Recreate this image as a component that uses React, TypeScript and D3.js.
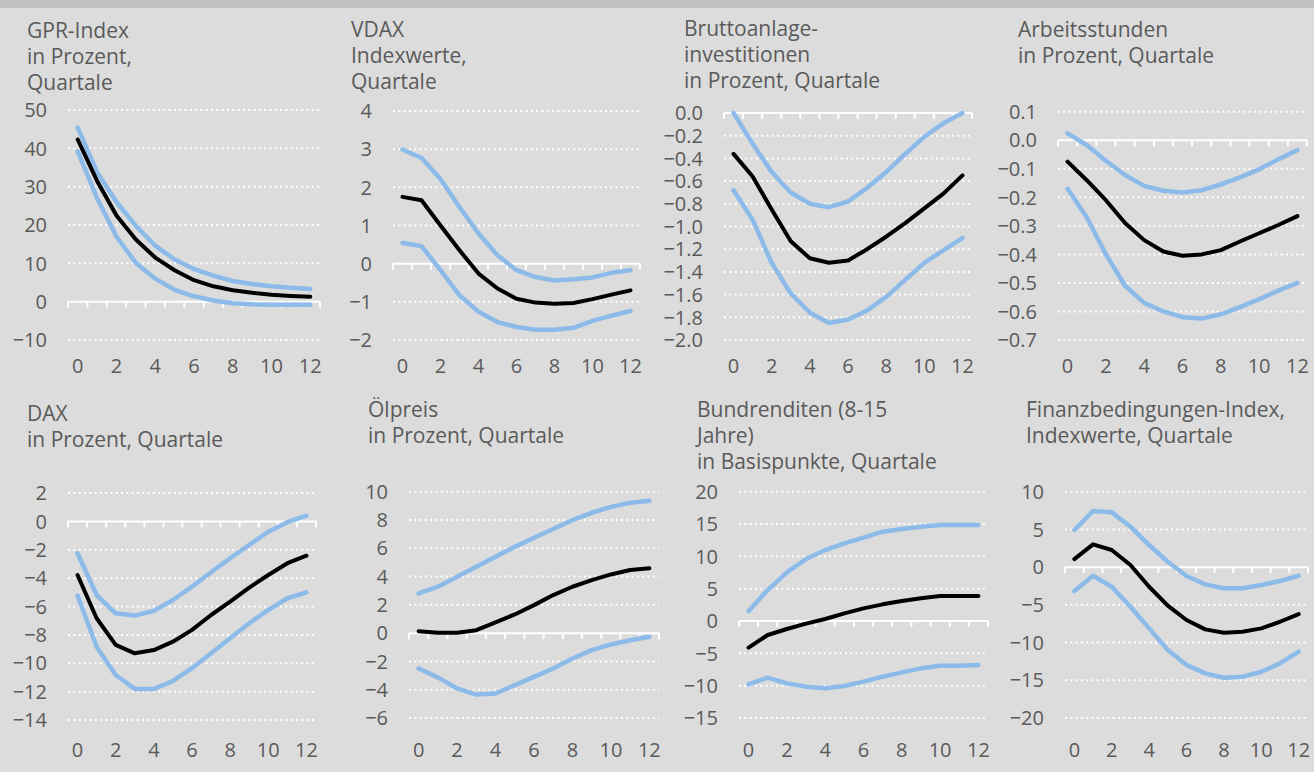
import React from "react";
import * as d3 from "d3";

// quarters after the shock
const QUARTERS = [0, 1, 2, 3, 4, 5, 6, 7, 8, 9, 10, 11, 12];
const X_LABELS = [0, 2, 4, 6, 8, 10, 12];

// GPR-Index
const gprMid = [42.3, 31.5, 22.5, 16.2, 11.5, 8.2, 5.6, 4.0, 3.0, 2.3, 1.8, 1.5, 1.3];
const gprUpper = [45.4, 33.8, 26.0, 19.8, 14.6, 11.0, 8.5, 6.8, 5.4, 4.6, 4.0, 3.6, 3.3];
const gprLower = [39.2, 27.0, 17.0, 10.1, 6.0, 3.1, 1.4, 0.3, -0.4, -0.7, -0.8, -0.8, -0.8];
const gprTicks = [-10, 0, 10, 20, 30, 40, 50];

// VDAX
const vdaxMid = [1.75, 1.66, 1.0, 0.35, -0.26, -0.65, -0.92, -1.02, -1.05, -1.03, -0.93, -0.81, -0.7];
const vdaxUpper = [2.99, 2.77, 2.22, 1.48, 0.79, 0.22, -0.17, -0.35, -0.44, -0.41, -0.36, -0.24, -0.17];
const vdaxLower = [0.54, 0.46, -0.17, -0.83, -1.26, -1.53, -1.66, -1.73, -1.73, -1.68, -1.5, -1.36, -1.24];
const vdaxTicks = [-2, -1, 0, 1, 2, 3, 4];

// Bruttoanlageinvestitionen
const invMid = [-0.36, -0.56, -0.85, -1.13, -1.28, -1.32, -1.3, -1.2, -1.09, -0.97, -0.84, -0.71, -0.55];
const invUpper = [0.0, -0.27, -0.52, -0.7, -0.8, -0.83, -0.78, -0.66, -0.52, -0.36, -0.21, -0.09, 0.0];
const invLower = [-0.68, -0.94, -1.32, -1.59, -1.76, -1.85, -1.82, -1.74, -1.62, -1.47, -1.32, -1.21, -1.1];
const invTicks = [-2.0, -1.8, -1.6, -1.4, -1.2, -1.0, -0.8, -0.6, -0.4, -0.2, 0.0];

// Arbeitsstunden
const hoursMid = [-0.075, -0.14, -0.21, -0.29, -0.35, -0.39, -0.405, -0.4, -0.385, -0.355, -0.326, -0.297, -0.266];
const hoursUpper = [0.024, -0.017, -0.072, -0.122, -0.16, -0.177, -0.183, -0.175, -0.155, -0.13, -0.102, -0.067, -0.034];
const hoursLower = [-0.17, -0.27, -0.4, -0.51, -0.57, -0.6, -0.62, -0.625, -0.61, -0.585, -0.557, -0.527, -0.5];
const hoursTicks = [-0.7, -0.6, -0.5, -0.4, -0.3, -0.2, -0.1, 0.0, 0.1];

// DAX
const daxMid = [-3.78, -6.83, -8.71, -9.3, -9.07, -8.48, -7.65, -6.6, -5.66, -4.67, -3.78, -2.95, -2.42];
const daxUpper = [-2.25, -5.19, -6.48, -6.64, -6.31, -5.54, -4.6, -3.59, -2.6, -1.66, -0.73, -0.06, 0.4];
const daxLower = [-5.23, -8.83, -10.83, -11.81, -11.81, -11.25, -10.35, -9.3, -8.24, -7.18, -6.24, -5.42, -5.0];
const daxTicks = [-14, -12, -10, -8, -6, -4, -2, 0, 2];

// Ölpreis
const oilMid = [0.14, 0.02, 0.02, 0.21, 0.76, 1.32, 1.98, 2.69, 3.28, 3.75, 4.15, 4.46, 4.58];
const oilUpper = [2.81, 3.28, 3.98, 4.69, 5.4, 6.1, 6.74, 7.36, 7.99, 8.51, 8.93, 9.22, 9.36];
const oilLower = [-2.5, -3.13, -3.91, -4.34, -4.27, -3.68, -3.09, -2.5, -1.79, -1.2, -0.8, -0.5, -0.26];
const oilTicks = [-6, -4, -2, 0, 2, 4, 6, 8, 10];

// Bundrenditen (8-15 Jahre)
const bundMid = [-4.12, -2.16, -1.24, -0.41, 0.31, 1.19, 1.96, 2.58, 3.09, 3.51, 3.87, 3.87, 3.87];
const bundUpper = [1.55, 4.79, 7.53, 9.59, 10.98, 12.01, 12.89, 13.81, 14.23, 14.59, 14.85, 14.85, 14.85];
const bundLower = [-9.79, -8.76, -9.64, -10.15, -10.41, -10.05, -9.38, -8.61, -7.94, -7.32, -6.91, -6.91, -6.8];
const bundTicks = [-15, -10, -5, 0, 5, 10, 15, 20];

// Finanzbedingungen-Index
const fciMid = [1.07, 3.02, 2.27, 0.28, -2.6, -5.11, -7.01, -8.25, -8.69, -8.56, -8.12, -7.24, -6.22];
const fciUpper = [4.92, 7.44, 7.26, 5.36, 2.93, 0.72, -1.18, -2.28, -2.81, -2.81, -2.37, -1.84, -1.14];
const fciLower = [-3.17, -1.14, -2.6, -5.25, -8.12, -10.99, -12.98, -14.08, -14.66, -14.52, -13.87, -12.76, -11.21];
const fciTicks = [-20, -15, -10, -5, 0, 5, 10];

const BG = "#dcdcdc";
const TEXT = "#5a5a5a";
const BLUE = "#8cbbe9";
const FONT = "'Open Sans', sans-serif";

const panels = [
  { title: ["GPR-Index", "in Prozent,", "Quartale"], tx: 27, ty: 38, mid: gprMid, upper: gprUpper, lower: gprLower, ticks: gprTicks, fmt: "d", left: 68, right: 320, top: 110, bottom: 340, labelY: 373 },
  { title: ["VDAX", "Indexwerte,", "Quartale"], tx: 351, ty: 37, mid: vdaxMid, upper: vdaxUpper, lower: vdaxLower, ticks: vdaxTicks, fmt: "d", left: 393, right: 640, top: 111, bottom: 340, labelY: 373 },
  { title: ["Bruttoanlage-", "investitionen", "in Prozent, Quartale"], tx: 684, ty: 36, mid: invMid, upper: invUpper, lower: invLower, ticks: invTicks, fmt: ".1f", left: 724, right: 972, top: 113, bottom: 340, labelY: 373 },
  { title: ["Arbeitsstunden", "in Prozent, Quartale"], tx: 1018, ty: 37, mid: hoursMid, upper: hoursUpper, lower: hoursLower, ticks: hoursTicks, fmt: ".1f", left: 1058, right: 1307, top: 111.7, bottom: 340, labelY: 373 },
  { title: ["DAX", "in Prozent, Quartale"], tx: 27, ty: 421, mid: daxMid, upper: daxUpper, lower: daxLower, ticks: daxTicks, fmt: "d", left: 68, right: 316, top: 493, bottom: 720, labelY: 757 },
  { title: ["Ölpreis", "in Prozent, Quartale"], tx: 368, ty: 417, mid: oilMid, upper: oilUpper, lower: oilLower, ticks: oilTicks, fmt: "d", left: 409, right: 659, top: 491.7, bottom: 718, labelY: 757 },
  { title: ["Bundrenditen (8-15", "Jahre)", "in Basispunkte, Quartale"], tx: 697, ty: 417, mid: bundMid, upper: bundUpper, lower: bundLower, ticks: bundTicks, fmt: "d", left: 739, right: 988, top: 491.7, bottom: 718, labelY: 757 },
  { title: ["Finanzbedingungen-Index,", "Indexwerte, Quartale"], tx: 1026, ty: 417, mid: fciMid, upper: fciUpper, lower: fciLower, ticks: fciTicks, fmt: "d", left: 1065, right: 1308, top: 491.7, bottom: 718, labelY: 757 },
];

const Panel = ({ p }: { p: any }) => {
  const x = d3.scaleBand<number>().domain(QUARTERS).range([p.left, p.right]);
  const y = d3
    .scaleLinear()
    .domain([p.ticks[0], p.ticks[p.ticks.length - 1]])
    .range([p.bottom, p.top]);
  const cx = (q: number) => (x(q) as number) + x.bandwidth() / 2;
  const line = d3
    .line<number>()
    .x((_, i) => cx(QUARTERS[i]))
    .y((d) => y(d));
  const format = d3.format(p.fmt);
  const y0 = y(0);
  const bounds = QUARTERS.map((q) => x(q) as number).concat([p.right]);

  return (
    <g>
      {p.title.map((t: string, i: number) => (
        <text key={i} x={p.tx} y={p.ty + i * 26} fontSize={21} fill={TEXT}>
          {t}
        </text>
      ))}
      {p.ticks.map((t: number) => (
        <g key={t}>
          {t !== 0 && (
            <line
              x1={p.left}
              x2={p.right}
              y1={y(t)}
              y2={y(t)}
              stroke="#fff"
              strokeWidth={2}
              strokeDasharray="2 3.3"
            />
          )}
          <text
            x={p.left - 21}
            y={y(t)}
            dy="0.36em"
            textAnchor="end"
            fontSize={20}
            fill={TEXT}
          >
            {format(t)}
          </text>
        </g>
      ))}
      <line x1={p.left} x2={p.right} y1={y0} y2={y0} stroke="#fff" strokeWidth={2} />
      {bounds.map((b: number, i: number) => (
        <line key={i} x1={b} x2={b} y1={y0} y2={y0 + 6} stroke="#fff" strokeWidth={2} />
      ))}
      {X_LABELS.map((q) => (
        <text key={q} x={cx(q)} y={p.labelY} textAnchor="middle" fontSize={20} fill={TEXT}>
          {q}
        </text>
      ))}
      <path d={line(p.upper) as string} fill="none" stroke={BLUE} strokeWidth={4.5} strokeLinejoin="round" strokeLinecap="round" />
      <path d={line(p.lower) as string} fill="none" stroke={BLUE} strokeWidth={4.5} strokeLinejoin="round" strokeLinecap="round" />
      <path d={line(p.mid) as string} fill="none" stroke="#000" strokeWidth={4} strokeLinejoin="round" strokeLinecap="round" />
    </g>
  );
};

export default function App() {
  return (
    <svg
      width={1314}
      height={772}
      style={{ position: "absolute", left: 0, top: 0, fontFamily: FONT }}
    >
      <rect width={1314} height={772} fill={BG} />
      <rect width={1314} height={8} fill="#c2c2c2" />
      {panels.map((p, i) => (
        <Panel key={i} p={p} />
      ))}
    </svg>
  );
}
